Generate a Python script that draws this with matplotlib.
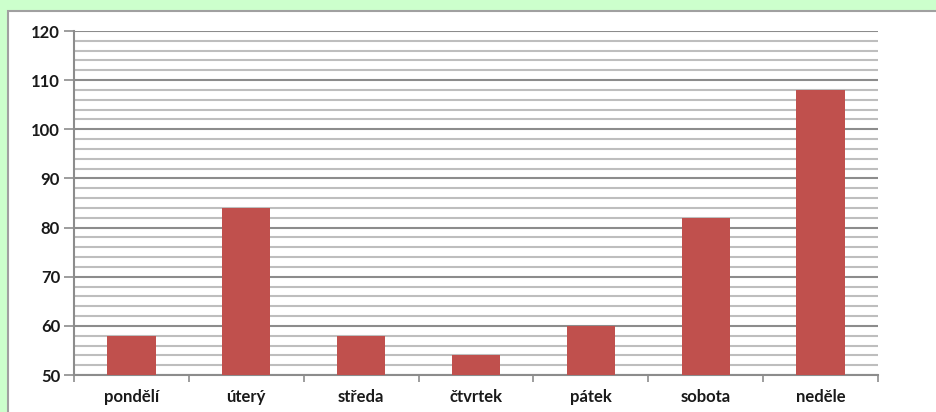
import numpy as np
import matplotlib.pyplot as plt
from matplotlib.patches import Rectangle

# Data
days = ["pondělí", "úterý", "středa", "čtvrtek", "pátek", "sobota", "neděle"]
values = [58, 84, 58, 54, 60, 82, 108]

plt.rcParams['font.family'] = ['Lato', 'DejaVu Sans']

fig = plt.figure(figsize=(9.36, 4.12), dpi=100)
fig.patch.set_facecolor('#CCFFCC')

# white chart panel with gray border
panel = Rectangle((8 / 936, -0.1), 1.0, (412 - 11) / 412 + 0.1, transform=fig.transFigure,
                  facecolor='white', edgecolor='#A0A0A0', linewidth=1.5, zorder=-1)
fig.add_artist(panel)

ax = fig.add_axes([74 / 936, 37 / 412, 804 / 936, 344 / 412])
ax.set_facecolor('none')

x = np.arange(len(days))
ax.bar(x, values, width=0.42, bottom=0, color='#C0504D', zorder=3)

ax.set_ylim(50, 120)
ax.set_xlim(-0.5, len(days) - 0.5)

ax.set_yticks(np.arange(50, 121, 10))
ax.set_yticks(np.arange(50, 121, 2), minor=True)
ax.grid(axis='y', which='major', color='#8C8C8C', linewidth=1.5, zorder=1)
ax.grid(axis='y', which='minor', color='#BEBEBE', linewidth=1.5, zorder=1)
ax.tick_params(axis='y', which='major', length=7, width=1.2, color='#8C8C8C',
               labelsize=12, pad=3)
ax.tick_params(axis='y', which='minor', length=0)

ax.set_xticks(np.arange(-0.5, len(days), 1))
ax.set_xticklabels([])
ax.set_xticks(x, minor=True)
ax.set_xticklabels(days, minor=True)
ax.tick_params(axis='x', which='major', length=5, width=1.2, color='#8C8C8C')
ax.tick_params(axis='x', which='minor', length=0, labelsize=12, pad=10)

for lbl in ax.get_yticklabels() + ax.get_xticklabels(minor=True):
    lbl.set_fontweight('bold')
    lbl.set_color('#1A1A1A')

for side in ['top', 'right']:
    ax.spines[side].set_visible(False)
for side in ['left', 'bottom']:
    ax.spines[side].set_color('#8C8C8C')
    ax.spines[side].set_linewidth(1.5)

ax.set_axisbelow(True)
fig.savefig("out.png", dpi=100, facecolor=fig.get_facecolor())
plt.close()
